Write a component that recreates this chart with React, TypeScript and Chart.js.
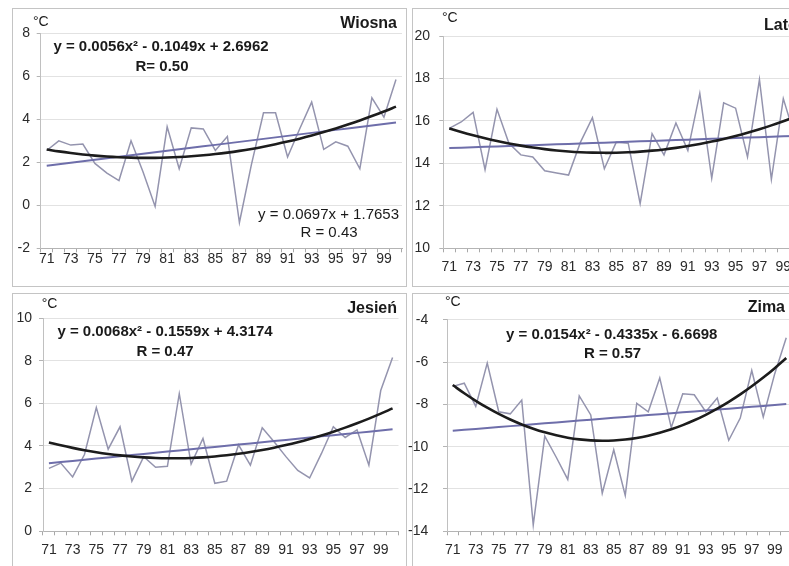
import React, { useEffect, useRef } from 'react';
import { Chart, registerables } from 'chart.js';

Chart.register(...registerables);

// ---- data ----
const years = ['71','72','73','74','75','76','77','78','79','80','81','82','83','84','85','86','87','88','89','90','91','92','93','94','95','96','97','98','99','00'];

const wiosna = [2.55, 3.0, 2.8, 2.85, 1.95, 1.5, 1.15, 3.0, 1.55, -0.05, 3.65, 1.7, 3.6, 3.55, 2.55, 3.2, -0.8, 1.9, 4.3, 4.3, 2.25, 3.55, 4.8, 2.6, 2.95, 2.75, 1.7, 5.0, 4.1, 5.85];
const lato = [15.65, 15.95, 16.4, 13.7, 16.55, 14.95, 14.4, 14.3, 13.65, 13.55, 13.45, 15.0, 16.15, 13.75, 15.0, 14.95, 12.1, 15.4, 14.4, 15.9, 14.6, 17.3, 13.3, 16.85, 16.6, 14.3, 17.95, 13.25, 17.05, 15.2];
const jesien = [2.95, 3.2, 2.55, 3.6, 5.8, 3.85, 4.9, 2.35, 3.5, 3.0, 3.05, 6.45, 3.15, 4.35, 2.25, 2.35, 4.05, 3.1, 4.85, 4.2, 3.5, 2.85, 2.5, 3.65, 4.9, 4.4, 4.75, 3.1, 6.6, 8.15];
const zima = [-7.15, -7.0, -8.1, -6.05, -8.35, -8.45, -7.8, -13.7, -9.5, -10.5, -11.55, -7.6, -8.5, -12.2, -10.15, -12.3, -7.95, -8.35, -6.75, -9.1, -7.5, -7.55, -8.35, -7.7, -9.7, -8.65, -6.4, -8.6, -6.55, -4.85];

// trend coefficients (linear: slope, intercept; poly: a, b, c) with x = 1..30
const wiosnaLinear = [0.0697, 1.7653];
const wiosnaPoly = [0.0056, -0.1049, 2.6962];
const latoLinear = [0.0198, 14.70];
const latoPoly = [0.0067, -0.189, 15.83];
const jesienLinear = [0.0548, 3.135];
const jesienPoly = [0.0068, -0.1559, 4.3174];
const zimaLinear = [0.0434, -9.29];
const zimaPoly = [0.0154, -0.4335, -6.6698];

// y-axis ranges: min, max, step
const wiosnaRange = [-2, 8, 2];
const latoRange = [10, 20, 2];
const jesienRange = [0, 10, 2];
const zimaRange = [-14, -4, 2];

const wiosnaTexts = ['Wiosna', 'y = 0.0056x² - 0.1049x + 2.6962', 'R= 0.50', 'y = 0.0697x + 1.7653', 'R = 0.43'];
const latoTexts = ['Lato'];
const jesienTexts = ['Jesień', 'y = 0.0068x² - 0.1559x + 4.3174', 'R = 0.47'];
const zimaTexts = ['Zima', 'y = 0.0154x² - 0.4335x - 6.6698', 'R = 0.57'];

const FONT = 'Arial, "Liberation Sans", Helvetica, sans-serif';

const linearTrend = (c: number[]) => years.map((_, i) => c[0] * (i + 1) + c[1]);
const polyTrend = (c: number[]) => years.map((_, i) => c[0] * (i + 1) * (i + 1) + c[1] * (i + 1) + c[2]);

const annotPlugin = {
  id: 'annot',
  afterDraw(chart: any, _args: any, opts: any) {
    const ctx = chart.ctx;
    const bx = opts.bx || 0;
    ctx.save();
    ctx.strokeStyle = '#c4c4c4';
    ctx.lineWidth = 1;
    ctx.strokeRect(bx + 0.5, 0.5, chart.width - bx - 1, chart.height - 1);
    for (const t of opts.texts || []) {
      ctx.font = t.font + ' ' + FONT;
      ctx.fillStyle = '#1a1a1a';
      ctx.textAlign = t.align;
      ctx.textBaseline = 'middle';
      ctx.fillText(t.text, t.x, t.y);
    }
    ctx.restore();
  },
};

type PanelSpec = {
  x: number; y: number; w: number; h: number; bx: number;
  padTop: number; padRight: number; yW: number; xH: number;
  xPad: number; yPad: number;
  range: number[];
  values: number[]; lin: number[]; poly: number[];
  texts: any[];
};

const panels: PanelSpec[] = [
  {
    x: 12, y: 8, w: 395, h: 279, bx: 0, padTop: 25.3, padRight: 5, yW: 28.7, xH: 38.7, xPad: -2, yPad: 6.7,
    range: wiosnaRange, values: wiosna, lin: wiosnaLinear, poly: wiosnaPoly,
    texts: [
      { text: '°C', x: 21, y: 14, align: 'left', font: '14px' },
      { text: wiosnaTexts[0], x: 385, y: 16, align: 'right', font: 'bold 16px' },
      { text: wiosnaTexts[1], x: 149, y: 38.7, align: 'center', font: 'bold 15px' },
      { text: wiosnaTexts[2], x: 150, y: 58.7, align: 'center', font: 'bold 15px' },
      { text: wiosnaTexts[3], x: 387, y: 207, align: 'right', font: '15px' },
      { text: wiosnaTexts[4], x: 317, y: 225, align: 'center', font: '15px' },
    ],
  },
  {
    x: 412, y: 8, w: 395, h: 279, bx: 0, padTop: 28, padRight: 5.8, yW: 31.3, xH: 38.7, xPad: 6, yPad: 9.3,
    range: latoRange, values: lato, lin: latoLinear, poly: latoPoly,
    texts: [
      { text: '°C', x: 30, y: 10, align: 'left', font: '14px' },
      { text: latoTexts[0], x: 352, y: 17.7, align: 'left', font: 'bold 16px' },
    ],
  },
  {
    x: 12, y: 293, w: 395, h: 285, bx: 0, padTop: 25, padRight: 8.5, yW: 31, xH: 46.7, xPad: 6, yPad: 7,
    range: jesienRange, values: jesien, lin: jesienLinear, poly: jesienPoly,
    texts: [
      { text: '°C', x: 29.7, y: 11, align: 'left', font: '14px' },
      { text: jesienTexts[0], x: 385, y: 16, align: 'right', font: 'bold 16px' },
      { text: jesienTexts[1], x: 153, y: 38.7, align: 'center', font: 'bold 15px' },
      { text: jesienTexts[2], x: 153, y: 59, align: 'center', font: 'bold 15px' },
    ],
  },
  {
    x: 402, y: 293, w: 405, h: 285, bx: 10, padTop: 26.7, padRight: 15, yW: 45, xH: 46.7, xPad: 6, yPad: 14.7,
    range: zimaRange, values: zima, lin: zimaLinear, poly: zimaPoly,
    texts: [
      { text: '°C', x: 43, y: 9, align: 'left', font: '14px' },
      { text: zimaTexts[0], x: 383, y: 15, align: 'right', font: 'bold 16px' },
      { text: zimaTexts[1], x: 209.7, y: 42, align: 'center', font: 'bold 15px' },
      { text: zimaTexts[2], x: 210.5, y: 61, align: 'center', font: 'bold 15px' },
    ],
  },
];

function Panel({ spec }: { spec: PanelSpec }) {
  const ref = useRef<HTMLCanvasElement | null>(null);
  useEffect(() => {
    if (!ref.current) return;
    const chart = new Chart(ref.current, {
      type: 'line',
      data: {
        labels: years,
        datasets: [
          { data: polyTrend(spec.poly), borderColor: '#1c1c1c', borderWidth: 2.6, pointRadius: 0, tension: 0.4, fill: false },
          { data: linearTrend(spec.lin), borderColor: '#6e6eaa', borderWidth: 2, pointRadius: 0, tension: 0, fill: false },
          { data: spec.values, borderColor: '#9494ae', borderWidth: 1.5, pointRadius: 0, tension: 0, fill: false },
        ],
      },
      options: {
        animation: false,
        responsive: false,
        devicePixelRatio: 1,
        events: [],
        layout: { padding: { left: 0, top: spec.padTop, right: spec.padRight, bottom: 0 } },
        plugins: {
          legend: { display: false },
          tooltip: { enabled: false },
          annot: { texts: spec.texts, bx: spec.bx },
        } as any,
        scales: {
          x: {
            type: 'category',
            offset: true,
            grid: { offset: true, drawOnChartArea: false, tickLength: 4, color: '#a8a8a8' },
            border: { color: '#b4b4b4' },
            ticks: {
              autoSkip: false,
              maxRotation: 0,
              padding: spec.xPad,
              color: '#2a2a2a',
              font: { family: FONT, size: 14 },
              callback: function (this: any, v: any, i: number) {
                return i % 2 === 0 ? this.getLabelForValue(v) : '';
              },
            },
            afterFit: (s: any) => { s.height = spec.xH; },
          },
          y: {
            min: spec.range[0],
            max: spec.range[1],
            ticks: { stepSize: spec.range[2], padding: spec.yPad, color: '#2a2a2a', font: { family: FONT, size: 14 } },
            grid: { color: '#e2e2e2', tickLength: 4, tickColor: '#b4b4b4' },
            border: { color: '#c0c0c0' },
            afterFit: (s: any) => { s.width = spec.yW; },
          },
        },
      } as any,
      plugins: [annotPlugin],
    });
    return () => chart.destroy();
  }, [spec]);
  return (
    <canvas
      ref={ref}
      width={spec.w}
      height={spec.h}
      style={{ position: 'absolute', left: spec.x, top: spec.y, width: spec.w, height: spec.h }}
    />
  );
}

export default function App() {
  return (
    <div style={{ position: 'absolute', left: 0, top: 0, width: 789, height: 566, overflow: 'hidden', background: '#ffffff' }}>
      {panels.map((p, i) => <Panel key={i} spec={p} />)}
    </div>
  );
}
